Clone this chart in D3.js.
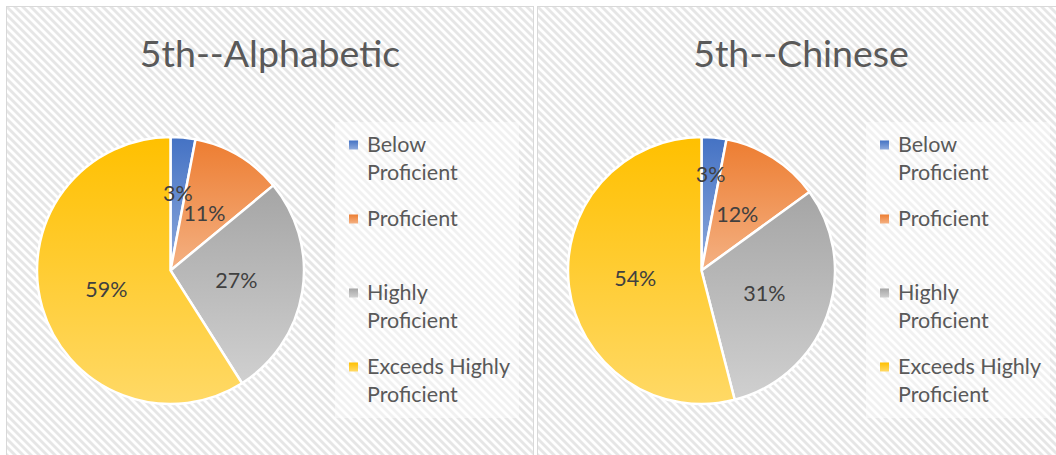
<!DOCTYPE html>
<html>
<head>
<meta charset="utf-8">
<script src="https://cdn.jsdelivr.net/npm/d3@7"></script>
<style>
  body { margin: 0; background: #fff; }
  svg { display: block; font-family: Lato, "Open Sans", sans-serif; }
</style>
</head>
<body>
<div class="chart"></div>
<script>
var categories = ["Below Proficient", "Proficient", "Highly Proficient", "Exceeds Highly Proficient"];
var titles = ["5th--Alphabetic", "5th--Chinese"];
var alphabeticValues = [3, 11, 27, 59];
var chineseValues = [3, 12, 31, 54];

// colours: top and bottom of each slice gradient
var topColors = ["#4472c4", "#ed7d31", "#a5a5a5", "#ffc000"];
var bottomColors = ["#8faadc", "#f4b183", "#d0d0d0", "#ffd966"];

// label distance from centre (fraction of radius); small slices pushed out like Excel did
var labelRadius = [[0.58, 0.5, 0.5, 0.5], [0.72, 0.5, 0.5, 0.5]];

var width = 1056, height = 455;

var svg = d3.select(".chart").append("svg")
    .attr("width", width)
    .attr("height", height);

var defs = svg.append("defs");

var hatch = defs.append("pattern")
    .attr("id", "hatch")
    .attr("patternUnits", "userSpaceOnUse")
    .attr("width", 8)
    .attr("height", 8);
hatch.append("rect").attr("width", 8).attr("height", 8).attr("fill", "#fff");
hatch.append("path")
    .attr("d", "M0,0 L4,0 L8,4 L8,8 Z M0,4 L4,8 L0,8 Z")
    .attr("fill", "#e6e6e6");

topColors.forEach(function(c, i) {
    var g = defs.append("linearGradient")
        .attr("id", "grad" + i)
        .attr("x1", 0).attr("y1", 0)
        .attr("x2", 0).attr("y2", 1);
    g.append("stop").attr("offset", "0%").attr("stop-color", c);
    g.append("stop").attr("offset", "100%").attr("stop-color", bottomColors[i]);
});

var pie = d3.pie().sort(null).value(function(d) { return d; });
var radius = 133.5;
var arc = d3.arc().innerRadius(0).outerRadius(radius);

function drawChart(x0, title, values, lr) {
    var g = svg.append("g").attr("transform", "translate(" + x0 + ",0)");

    g.append("rect")
        .attr("x", 0.5).attr("y", 6.5)
        .attr("width", 527).attr("height", 470)
        .attr("fill", "url(#hatch)")
        .attr("stroke", "#d9d9d9");

    g.append("text")
        .attr("x", 264)
        .attr("y", 67)
        .attr("text-anchor", "middle")
        .attr("font-size", 37.5)
        .attr("fill", "#595959")
        .text(title);

    var total = d3.sum(values);
    var pg = g.append("g").attr("transform", "translate(164.5,270.5)");
    var arcs = pie(values);

    pg.selectAll("path")
        .data(arcs)
        .enter()
        .append("path")
        .attr("d", arc)
        .attr("fill", function(d, i) { return "url(#grad" + i + ")"; })
        .attr("stroke", "#fff")
        .attr("stroke-width", 2.5);

    pg.selectAll("text")
        .data(arcs)
        .enter()
        .append("text")
        .attr("transform", function(d, i) {
            var a = (d.startAngle + d.endAngle) / 2;
            var r = radius * lr[i];
            return "translate(" + (r * Math.sin(a)) + "," + (-r * Math.cos(a)) + ")";
        })
        .attr("dy", "0.35em")
        .attr("text-anchor", "middle")
        .attr("font-size", 21.5)
        .attr("fill", "#404040")
        .text(function(d) { return Math.round(d.value / total * 100) + "%"; });

    // legend
    var lg = g.append("g");
    lg.append("rect")
        .attr("x", 329).attr("y", 122)
        .attr("width", 184).attr("height", 296)
        .attr("fill", "#fff")
        .attr("opacity", 0.45);

    var items = lg.selectAll("g.item")
        .data(categories)
        .enter()
        .append("g")
        .attr("class", "item")
        .attr("transform", function(d, i) { return "translate(0," + (145 + i * 74) + ")"; });

    items.append("rect")
        .attr("x", 343).attr("y", -4.5)
        .attr("width", 9).attr("height", 9)
        .attr("fill", function(d, i) { return "url(#grad" + i + ")"; });

    items.append("text")
        .attr("x", 361)
        .attr("y", 7)
        .attr("font-size", 21.5)
        .attr("fill", "#595959")
        .each(function(d) {
            var k = d.lastIndexOf(" ");
            var lines = k < 0 ? [d] : [d.slice(0, k), d.slice(k + 1)];
            var t = d3.select(this);
            lines.forEach(function(l, j) {
                t.append("tspan").attr("x", 361).attr("dy", j ? 28 : 0).text(l);
            });
        });
}

drawChart(6, titles[0], alphabeticValues, labelRadius[0]);
drawChart(537, titles[1], chineseValues, labelRadius[1]);
</script>
</body>
</html>
